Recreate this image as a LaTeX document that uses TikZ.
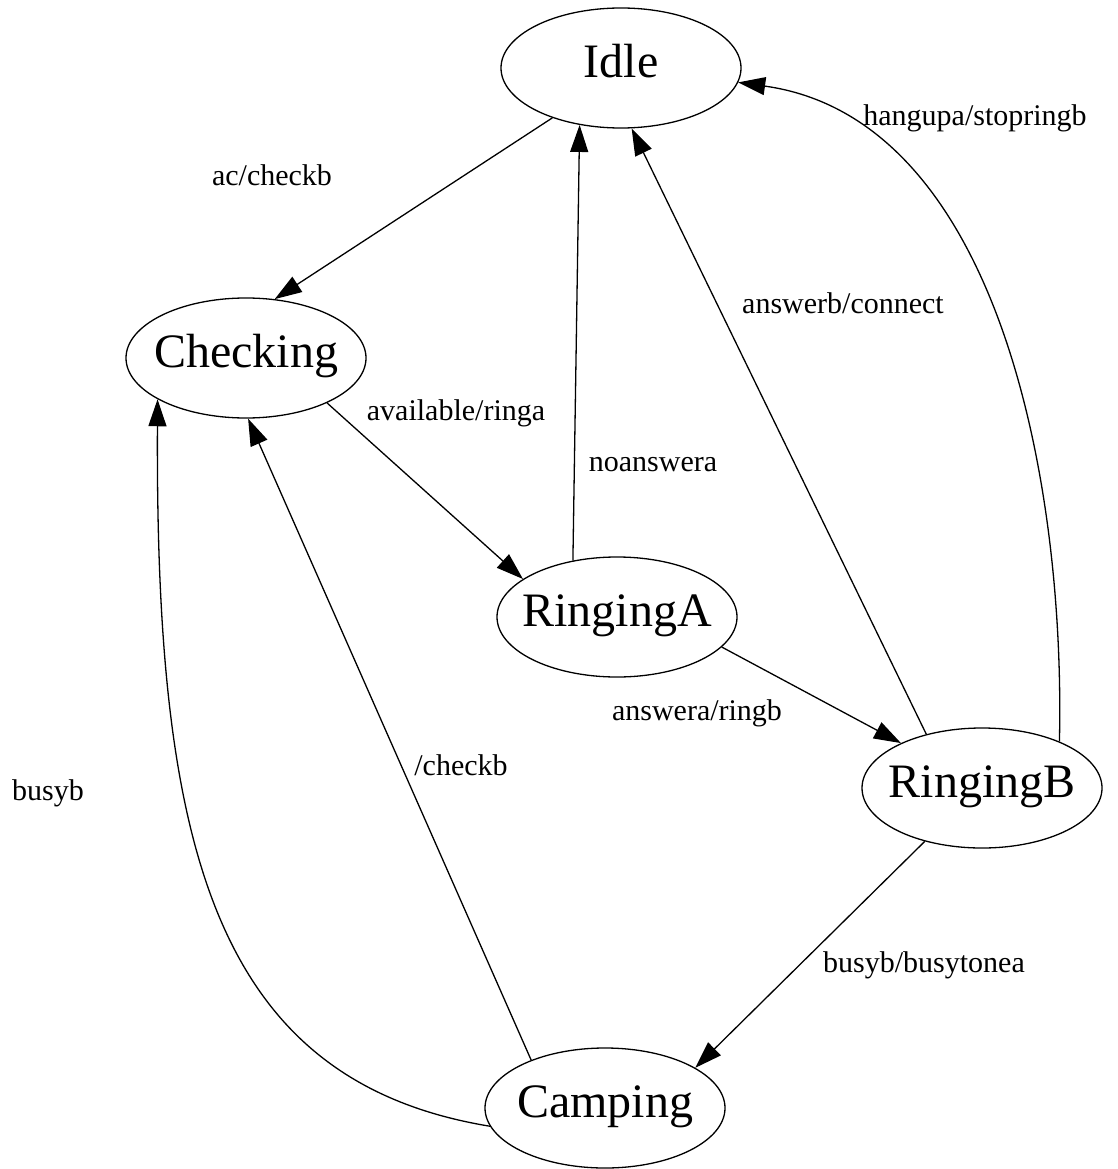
\documentclass[tikz,border=0pt]{standalone}
\usepackage{fontspec}
\setmainfont{Liberation Serif}
\usetikzlibrary{arrows.meta,shapes.geometric}
\begin{document}
\begin{tikzpicture}[x=1pt,y=1pt,
  state/.style={ellipse, draw, line width=1.3pt, minimum width=240pt,
    minimum height=120pt, inner sep=0pt, text height=32pt, text depth=13pt,
    font=\fontsize{48}{48}\selectfont},
  edge/.style={line width=1.3pt, -{Triangle[length=27pt,width=18pt]}},
  lbl/.style={font=\fontsize{30}{30}\selectfont, inner sep=0pt}]
\useasboundingbox (0,0) rectangle (1117,-1169);

% states
\node[state] (Idle)     at (621,-68)   {\makebox[0pt]{Idle}};
\node[state] (Checking) at (246,-358)  {\makebox[0pt]{Checking}};
\node[state] (RingingA) at (617,-617)  {\makebox[0pt]{RingingA}};
\node[state] (RingingB) at (982,-788)  {\makebox[0pt]{RingingB}};
\node[state] (Camping)  at (605,-1108) {\makebox[0pt]{Camping}};

% transitions
\draw[edge] (Idle.216) -- (Checking.64);
\draw[edge] (Checking.331) -- (RingingA.158);
\draw[edge] (RingingA.128) -- (Idle.234);
\draw[edge] (RingingA.344) -- (RingingB.151);
\draw[edge] (RingingB.136) -- (Idle.280);
\draw[edge] (RingingB.31) .. controls +(6,265) and +(258,-36) .. (Idle.353);
\draw[edge] (RingingB.223) -- (Camping.24.5);
\draw[edge] (Camping.147) -- (Checking.272);
\draw[edge] (Camping.189) .. controls +(-280,46) and +(-2,-440) .. (Checking.205);

% transition labels
\node[lbl] (l1) at (272,-175) {ac/checkb};
\node[lbl] (l2) at (456,-413) {available/ringa};
\node[lbl] (l3) at (653,-465) {noanswera};
\node[lbl] (l4) at (697,-713) {answera/ringb};
\node[lbl] (l5) at (843,-303) {answerb/connect};
\node[lbl] (l6) at (975,-118) {hangupa/stopringb};
\node[lbl] (l7) at (924,-965) {busyb/busytonea};
\node[lbl] (l8) at (461,-765) {/checkb};
\node[lbl] (l9) at (48,-793)  {busyb};
\end{tikzpicture}
\end{document}
